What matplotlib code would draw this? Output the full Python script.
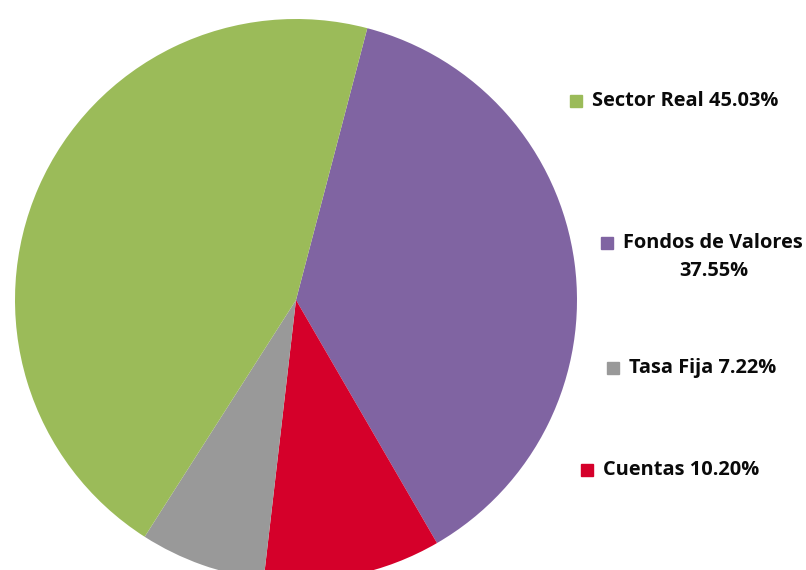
import matplotlib.pyplot as plt
from matplotlib.patches import Rectangle

# slices in clockwise drawing order, starting at the green/purple edge
labels = ["Fondos de Valores", "Cuentas", "Tasa Fija", "Sector Real"]
values = [37.55, 10.20, 7.22, 45.03]
colors = ["#8064A2", "#D5002A", "#999999", "#9BBB59"]

# legend entries as they appear on the right, top to bottom
legend_names = ["Sector Real 45.03%", "Fondos de Valores\n37.55%", "Tasa Fija 7.22%", "Cuentas 10.20%"]
legend_colors = ["#9BBB59", "#8064A2", "#999999", "#D5002A"]
legend_pos = [(576, 101), (607, 243), (613, 368), (587, 470)]

W, H = 806, 570
fig = plt.figure(figsize=(W / 100, H / 100), dpi=100)
ax = fig.add_axes([0, 0, 1, 1])

ax.pie(values, colors=colors, startangle=75.3, counterclock=False,
       center=(296, H - 300), radius=281,
       wedgeprops=dict(linewidth=0))
ax.set_xlim(0, W)
ax.set_ylim(0, H)
ax.set_aspect("equal")
ax.axis("off")

font = dict(fontsize=14.4, fontweight="bold", family="Open Sans", color="#0a0a0a")
for name, col, (x, y) in zip(legend_names, legend_colors, legend_pos):
    ax.add_patch(Rectangle((x - 6, H - y - 6), 12, 12, color=col))
    if "\n" in name:
        first, second = name.split("\n")
        ax.text(x + 16, H - y, first, va="center", ha="left", **font)
        ax.text(714, H - y - 28, second, va="center", ha="center", **font)
    else:
        ax.text(x + 16, H - y, name, va="center", ha="left", **font)

fig.savefig("out.png", dpi=100)
